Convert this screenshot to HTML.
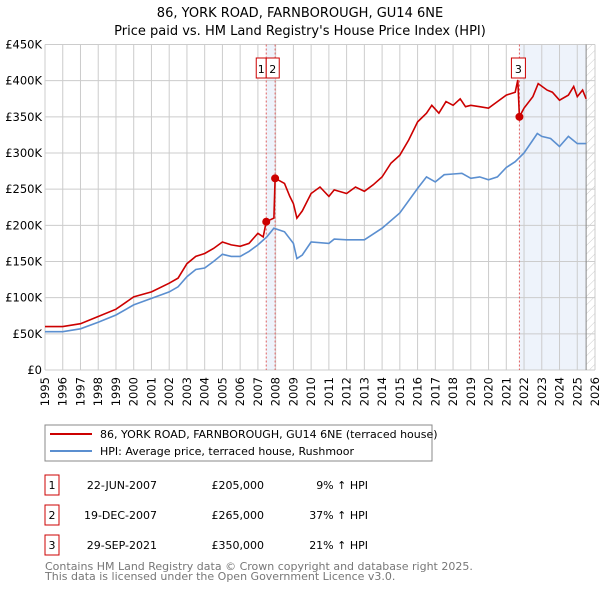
<!DOCTYPE html>
<html><head><meta charset="utf-8"><style>
body{margin:0;background:#fff;font-family:"Liberation Sans","DejaVu Sans",sans-serif;}
svg text{font-family:"DejaVu Sans","Liberation Sans",sans-serif;}
</style></head><body>
<svg id="c" width="600" height="590" xmlns="http://www.w3.org/2000/svg">
<defs><pattern id="hatch" width="6" height="6" patternUnits="userSpaceOnUse" patternTransform="rotate(45)"><line x1="0" y1="0" x2="0" y2="6" stroke="#ccc" stroke-width="1"/></pattern></defs>
<text x="300" y="17" text-anchor="middle" font-size="13">86, YORK ROAD, FARNBOROUGH, GU14 6NE</text>
<text x="300" y="35" text-anchor="middle" font-size="13">Price paid vs. HM Land Registry's House Price Index (HPI)</text>
<g id="plot"></g>
<rect x="45" y="425" width="387" height="36" fill="#fff" stroke="#888"/>
<line x1="50" y1="434" x2="92" y2="434" stroke="#cc0000" stroke-width="2"/>
<text x="100" y="438" font-size="11">86, YORK ROAD, FARNBOROUGH, GU14 6NE (terraced house)</text>
<line x1="50" y1="451" x2="92" y2="451" stroke="#5b8fd0" stroke-width="2"/>
<text x="100" y="455" font-size="11">HPI: Average price, terraced house, Rushmoor</text>
<g id="tbl" font-size="11"></g>
<text x="45" y="570" font-size="11" fill="#777">Contains HM Land Registry data © Crown copyright and database right 2025.</text>
<text x="45" y="580" font-size="11" fill="#777">This data is licensed under the Open Government Licence v3.0.</text>
</svg>
<script>
const hpiYears=[1995,1996,1997,1998,1999,2000,2001,2002,2002.5,2003,2003.5,2004,2004.5,2005,2005.5,2006,2006.5,2007,2007.5,2007.9,2008.5,2009,2009.2,2009.5,2010,2011,2011.3,2012,2013,2014,2015,2016,2016.5,2017,2017.5,2018,2018.5,2019,2019.5,2020,2020.5,2021,2021.5,2022,2022.5,2022.75,2023,2023.5,2024,2024.5,2025,2025.5];
const hpiValues=[53,53,57,66,76,90,99,108,115,129,139,141,150,160,157,157,164,173,184,196,191,175,154,159,177,175,181,180,180,196,217,251,267,260,270,271,272,265,267,263,267,280,288,300,318,327,323,320,309,323,313,313];
const propYears=[1995,1996,1997,1998,1999,2000,2001,2002,2002.5,2003,2003.5,2004,2004.5,2005,2005.5,2006,2006.5,2007,2007.3,2007.47,2007.9,2007.97,2008.5,2008.8,2009,2009.2,2009.5,2010,2010.5,2011,2011.3,2012,2012.5,2013,2013.5,2014,2014.5,2015,2015.5,2016,2016.5,2016.8,2017.2,2017.6,2018,2018.4,2018.7,2019,2019.5,2020,2020.5,2021,2021.5,2021.65,2021.74,2022,2022.5,2022.8,2023.3,2023.6,2024,2024.5,2024.8,2025,2025.3,2025.5];
const propValues=[60,60,64,74,84,101,108,120,127,147,157,161,168,177,173,171,175,189,184,205,210,265,258,240,230,210,220,244,253,240,249,244,253,247,256,267,286,297,318,343,355,366,355,371,366,375,364,366,364,362,371,380,384,401,350,362,378,396,387,384,373,380,392,378,387,375];
const saleYears=[2007.47,2007.97,2021.74];
const saleValues=[205,265,350];
const saleLabels=["1","2","3"];
const saleDates=["22-JUN-2007","19-DEC-2007","29-SEP-2021"];
const salePrices=["£205,000","£265,000","£350,000"];
const saleDiffs=["9% ↑ HPI","37% ↑ HPI","21% ↑ HPI"];
const yTicks=[0,50,100,150,200,250,300,350,400,450];
const yTickLabels=["£0","£50K","£100K","£150K","£200K","£250K","£300K","£350K","£400K","£450K"];
const NS="http://www.w3.org/2000/svg";
const X0=45,X1=595,Y0=370,Y1=44.5,dataEnd=2025.5;
const xs=y=>X0+(y-1995)/(2026-1995)*(X1-X0);
const ys=v=>Y0-v/450*(Y0-Y1);
const g=document.getElementById('plot');
function mk(t,a,p){const e=document.createElementNS(NS,t);for(const k in a)e.setAttribute(k,a[k]);(p||g).appendChild(e);return e;}
let e;
e=mk('rect',{x:xs(saleYears[0]),y:Y1,width:xs(saleYears[1])-xs(saleYears[0]),height:Y0-Y1,fill:'#eef3fb'});


e=mk('rect',{x:xs(saleYears[2]),y:Y1,width:xs(dataEnd)-xs(saleYears[2]),height:Y0-Y1,fill:'#eef3fb'});


e=mk('rect',{x:xs(dataEnd),y:Y1,width:X1-xs(dataEnd),height:Y0-Y1,fill:'url(#hatch)'});


for(let yr=1995;yr<=2026;yr++){
  e=mk('line',{x1:xs(yr),x2:xs(yr),y1:Y1,y2:Y0,stroke:'#ccc'});
  
  
  e=mk('text',{x:0,y:0,'font-size':11.5,'text-anchor':'end',transform:`translate(${xs(yr)+4},${Y0+7}) rotate(-90)`});
  e.textContent=yr;
  
  
}
yTicks.forEach((v,i)=>{
  e=mk('line',{x1:X0,x2:X1,y1:ys(v),y2:ys(v),stroke:'#ccc'});
  
  
  e=mk('text',{x:X0-3,y:ys(v)+4,'font-size':11.5,'text-anchor':'end'});
  e.textContent=yTickLabels[i];
  
  
});
e=mk('line',{x1:xs(dataEnd),x2:xs(dataEnd),y1:Y1,y2:Y0,stroke:'#888'});


saleYears.forEach((yr,i)=>{
  e=mk('line',{x1:xs(yr),x2:xs(yr),y1:Y1,y2:Y0,stroke:'#e06060','stroke-dasharray':'2,2'});
  
  
});
const pts=(a,b)=>a.map((y,i)=>xs(y).toFixed(1)+','+ys(b[i]).toFixed(1)).join(' ');
e=mk('polyline',{points:pts(hpiYears,hpiValues),fill:'none',stroke:'#5b8fd0','stroke-width':1.6});


e=mk('polyline',{points:pts(propYears,propValues),fill:'none',stroke:'#cc0000','stroke-width':1.6});


saleYears.forEach((yr,i)=>{
  e=mk('circle',{cx:xs(yr),cy:ys(saleValues[i]),r:4,fill:'#cc0000'});
  
  
  let bx,bw;
  if(i==0){bx=xs(yr)-10;bw=10;}else if(i==1){bx=xs(saleYears[0]);bw=13;}else{bx=xs(yr)-8;bw=14;}
  e=mk('rect',{x:bx,y:58,width:bw,height:20,fill:'#fff',stroke:'#cc0000'});
  
  
  e=mk('text',{x:bx+bw/2,y:73,'font-size':11,'text-anchor':'middle'});
  e.textContent=saleLabels[i];
  
  
});
const tb=document.getElementById('tbl');
saleLabels.forEach((l,i)=>{
  const yy=475+i*30;
  e=mk('rect',{x:45,y:yy,width:14,height:20,fill:'#fff',stroke:'#cc0000'},tb);
  
  
  e=mk('text',{x:52,y:yy+14,'text-anchor':'middle'},tb);e.textContent=l;
  
  
  e=mk('text',{x:157,y:yy+14,'text-anchor':'end'},tb);e.textContent=saleDates[i];
  
  
  e=mk('text',{x:264,y:yy+14,'text-anchor':'end'},tb);e.textContent=salePrices[i];
  
  
  e=mk('text',{x:368,y:yy+14,'text-anchor':'end'},tb);e.textContent=saleDiffs[i];
  
  
});
</script>
</body></html>
